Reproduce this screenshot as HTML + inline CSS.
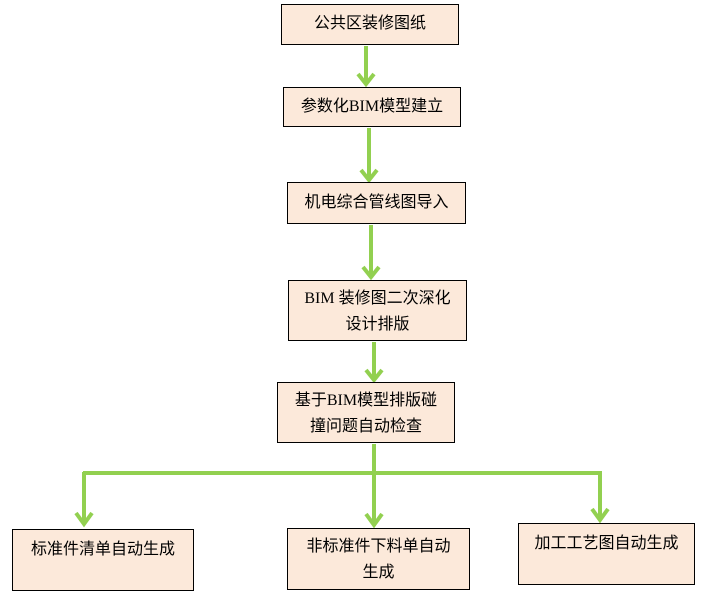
<!DOCTYPE html>
<html><head><meta charset="utf-8"><style>
body{margin:0;width:725px;height:598px;background:#fff;position:relative;overflow:hidden;font-family:"Liberation Serif","Noto Sans CJK SC",sans-serif;}
.b{position:absolute;box-sizing:border-box;border:1.5px solid #000;background:#fce9da;font-size:16px;color:#000;text-align:center;line-height:26px;}
svg{position:absolute;left:0;top:0;}
</style></head><body>
<svg width="725" height="598">
<g stroke="#92d050" stroke-width="4" fill="none" stroke-linejoin="miter">
<line x1="366" y1="46" x2="366" y2="84"/><polyline points="358,74 366,84 374,74"/>
<line x1="369" y1="128" x2="369" y2="180"/><polyline points="361,170 369,180 377,170"/>
<line x1="371" y1="225" x2="371" y2="277"/><polyline points="363,267 371,277 379,267"/>
<line x1="374" y1="342" x2="374" y2="380"/><polyline points="366,370 374,380 382,370"/>
<line x1="374" y1="444" x2="374" y2="474"/>
<line x1="83" y1="473" x2="602" y2="473"/>
<line x1="84" y1="472" x2="84" y2="524"/><polyline points="76,513 84,524 92,513"/>
<line x1="374" y1="472" x2="374" y2="525"/><polyline points="366,514 374,525 382,514"/>
<line x1="600" y1="472" x2="600" y2="520"/><polyline points="592,509 600,520 608,509"/>
</g></svg>
<div class="b" style="left:281px;top:4px;width:178px;height:41px;line-height:38px">公共区装修图纸</div>
<div class="b" style="left:283px;top:87px;width:178px;height:40px;line-height:37px">参数化BIM模型建立</div>
<div class="b" style="left:287px;top:182px;width:179px;height:42px;line-height:39px">机电综合管线图导入</div>
<div class="b" style="left:288px;top:280px;width:179px;height:61px;padding-top:5px">BIM 装修图二次深化<br>设计排版</div>
<div class="b" style="left:277px;top:382px;width:178px;height:61px;padding-top:5px">基于BIM模型排版碰<br>撞问题自动检查</div>
<div class="b" style="left:12px;top:529px;width:182px;height:62px;padding-top:7px">标准件清单自动生成</div>
<div class="b" style="left:287px;top:528px;width:183px;height:62px;padding-top:5px">非标准件下料单自动<br>生成</div>
<div class="b" style="left:518px;top:523px;width:177px;height:62px;padding-top:7px">加工工艺图自动生成</div>
</body></html>
